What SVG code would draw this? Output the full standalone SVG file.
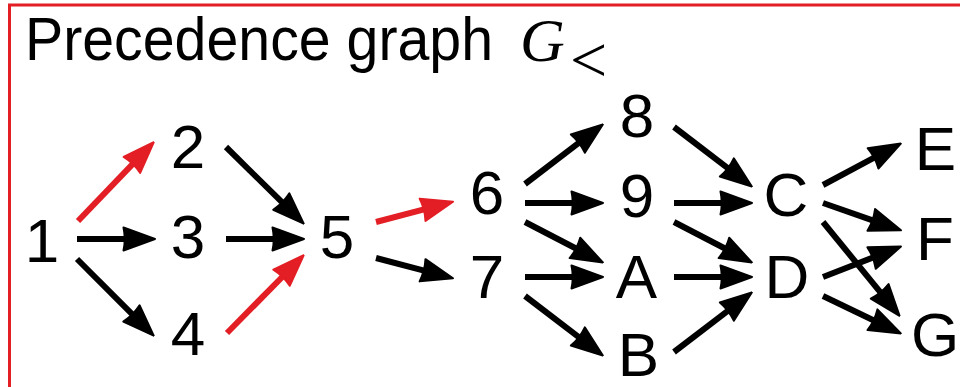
<svg xmlns="http://www.w3.org/2000/svg" width="960" height="387" viewBox="0 0 960 387">
<style>
.n{font-family:"Liberation Sans",Arial,sans-serif;font-size:62px;fill:#000;text-anchor:middle}
.e{stroke:#000;stroke-width:6;fill:none}
.r{stroke:#E31E24;stroke-width:6;fill:none}
</style>
<defs>
<marker id="ab" viewBox="0 0 34 26" refX="6" refY="13" markerWidth="34" markerHeight="26" markerUnits="userSpaceOnUse" orient="auto">
<path d="M1.5,1.5 L33,13 L1.5,24.5 Q4,13 1.5,1.5 Z" fill="#000" stroke="#000" stroke-width="2" stroke-linejoin="round"/>
</marker>
<marker id="ar" viewBox="0 0 34 26" refX="6" refY="13" markerWidth="34" markerHeight="26" markerUnits="userSpaceOnUse" orient="auto">
<path d="M1.5,1.5 L33,13 L1.5,24.5 Q4,13 1.5,1.5 Z" fill="#E31E24" stroke="#E31E24" stroke-width="2" stroke-linejoin="round"/>
</marker>
</defs>
<rect x="0" y="0" width="960" height="387" fill="#fff"/>
<rect x="9.5" y="5" width="1000" height="500" fill="none" stroke="#E31E24" stroke-width="3"/>
<g id="title">
<text x="25" y="60" font-family="'Liberation Sans',Arial,sans-serif" font-size="62" textLength="468" lengthAdjust="spacingAndGlyphs">Precedence graph</text>
<text x="520" y="61" font-family="'Liberation Serif','Times New Roman',serif" font-style="italic" font-size="62">G</text>
<text x="570" y="82" font-family="'Liberation Serif','Times New Roman',serif" font-size="66">&lt;</text>
</g>
<g id="connectors">
<line class="r" x1="78" y1="221" x2="135" y2="161.7" marker-end="url(#ar)"/>
<line class="e" x1="77" y1="239" x2="128" y2="239" marker-end="url(#ab)"/>
<line class="e" x1="77" y1="259" x2="134.6" y2="316.6" marker-end="url(#ab)"/>
<line class="e" x1="226" y1="147" x2="284.5" y2="204.7" marker-end="url(#ab)"/>
<line class="e" x1="226" y1="239" x2="277" y2="239" marker-end="url(#ab)"/>
<line class="r" x1="227" y1="333" x2="284.7" y2="274.5" marker-end="url(#ar)"/>
<line class="r" x1="376" y1="222" x2="426.9" y2="208.6" marker-end="url(#ar)"/>
<line class="e" x1="376" y1="258" x2="426.9" y2="271.4" marker-end="url(#ab)"/>
<line class="e" x1="525" y1="184" x2="581.4" y2="140.8" marker-end="url(#ab)"/>
<line class="e" x1="525" y1="203" x2="576" y2="203" marker-end="url(#ab)"/>
<line class="e" x1="525" y1="222" x2="578.9" y2="250" marker-end="url(#ab)"/>
<line class="e" x1="525" y1="277" x2="576" y2="277" marker-end="url(#ab)"/>
<line class="e" x1="525" y1="296" x2="581.4" y2="339.2" marker-end="url(#ab)"/>
<line class="e" x1="674" y1="127" x2="730.4" y2="170.2" marker-end="url(#ab)"/>
<line class="e" x1="674" y1="203" x2="725" y2="203" marker-end="url(#ab)"/>
<line class="e" x1="674" y1="222" x2="727.9" y2="250" marker-end="url(#ab)"/>
<line class="e" x1="674" y1="277" x2="725" y2="277" marker-end="url(#ab)"/>
<line class="e" x1="674" y1="352" x2="730.4" y2="308.8" marker-end="url(#ab)"/>
<line class="e" x1="823" y1="185" x2="877" y2="156.2" marker-end="url(#ab)"/>
<line class="e" x1="823" y1="203" x2="875.5" y2="221.4" marker-end="url(#ab)"/>
<line class="e" x1="823" y1="222" x2="882.5" y2="294.9" marker-end="url(#ab)"/>
<line class="e" x1="823" y1="277" x2="875.8" y2="256.4" marker-end="url(#ab)"/>
<line class="e" x1="823" y1="296" x2="876.5" y2="321.7" marker-end="url(#ab)"/>
</g>
<g id="n1"><text class="n" x="42" y="262">1</text></g>
<g id="n2"><text class="n" x="188" y="168">2</text></g>
<g id="n3"><text class="n" x="188" y="258">3</text></g>
<g id="n4"><text class="n" x="188" y="355">4</text></g>
<g id="n5"><text class="n" x="337" y="258">5</text></g>
<g id="n6"><text class="n" x="487" y="214">6</text></g>
<g id="n7"><text class="n" x="487" y="298">7</text></g>
<g id="n8"><text class="n" x="637" y="137">8</text></g>
<g id="n9"><text class="n" x="637" y="217">9</text></g>
<g id="nA"><text class="n" x="636.5" y="298">A</text></g>
<g id="nB"><text class="n" x="638.5" y="376">B</text></g>
<g id="nC"><text class="n" x="786" y="216">C</text></g>
<g id="nD"><text class="n" x="787" y="298">D</text></g>
<g id="nE"><text class="n" x="935.5" y="170">E</text></g>
<g id="nF"><text class="n" x="935" y="260">F</text></g>
<g id="nG"><text class="n" x="935" y="356">G</text></g>
</svg>
